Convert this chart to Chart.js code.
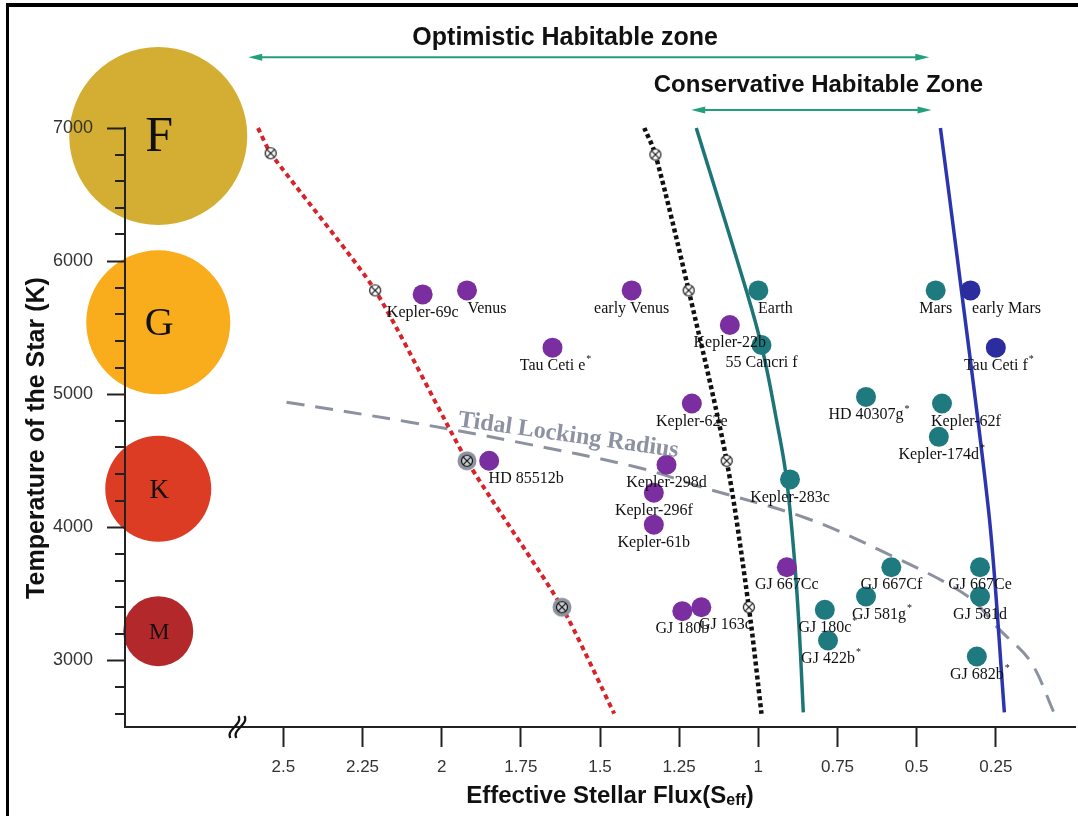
<!DOCTYPE html>
<html>
<head>
<meta charset="utf-8">
<script src="https://cdn.jsdelivr.net/npm/chart.js@4.4.1/dist/chart.umd.min.js"></script>
<style>
  html, body { margin: 0; padding: 0; background: #fff; }
  #wrap { width: 1078px; height: 816px; }
</style>
</head>
<body>
<div id="wrap"><canvas id="hzChart" width="1078" height="816"></canvas></div>
<script>
// Tick values
const fluxTicks = [2.5, 2.25, 2, 1.75, 1.5, 1.25, 1, 0.75, 0.5, 0.25];
const tempTicks = [3000, 4000, 5000, 6000, 7000];
const tempMinor = [2600, 2800, 3200, 3400, 3600, 3800, 4200, 4400, 4600, 4800,
                   5200, 5400, 5600, 5800, 6200, 6400, 6600, 6800];

// Spectral classes of the host star
const starClasses = ['F', 'G', 'K', 'M'];
const starFlux = [2.895, 2.895, 2.895, 2.895];
const starTemp = [6940, 5540, 4290, 3220];

// Planets too hot (purple)
const hotNames = ['Kepler-69c', 'Venus', 'early Venus', 'Tau Ceti e*', 'HD 85512b', 'Kepler-22b',
                  'Kepler-62e', 'Kepler-298d', 'Kepler-296f', 'Kepler-61b', 'GJ 667Cc', 'GJ 180b', 'GJ 163c'];
const hotFlux = [2.06, 1.92, 1.40, 1.65, 1.85, 1.09, 1.21, 1.29, 1.33, 1.33, 0.91, 1.24, 1.18];
const hotTemp = [5750, 5780, 5780, 5350, 4500, 5520, 4930, 4470, 4260, 4020, 3700, 3370, 3400];

// Planets inside the habitable zone (teal)
const hzNames = ['Earth', '55 Cancri f', 'Mars', 'HD 40307g*', 'Kepler-62f', 'Kepler-174d*', 'Kepler-283c',
                 'GJ 667Cf', 'GJ 667Ce', 'GJ 581g*', 'GJ 581d', 'GJ 180c*', 'GJ 422b*', 'GJ 682b*'];
const hzFlux = [1.00, 0.99, 0.44, 0.66, 0.42, 0.43, 0.90, 0.58, 0.30, 0.66, 0.30, 0.79, 0.78, 0.31];
const hzTemp = [5780, 5370, 5780, 4980, 4930, 4680, 4360, 3700, 3700, 3480, 3480, 3380, 3150, 3030];

// Planets too cold (blue)
const coldNames = ['early Mars', 'Tau Ceti f*'];
const coldFlux = [0.33, 0.25];
const coldTemp = [5780, 5350];

// Boundary curves
const recentVenusFlux = [2.58, 2.54, 2.21, 1.92, 1.62, 1.455];
const recentVenusTemp = [7000, 6810, 5780, 4500, 3400, 2600];
const moistFlux = [1.36, 1.325, 1.22, 1.10, 1.03, 0.99];
const moistTemp = [7000, 6800, 5780, 4500, 3400, 2600];
const runawayFlux = [1.196, 1.038, 0.987, 0.943, 0.912, 0.886, 0.871, 0.858];
const runawayTemp = [7000, 5780, 5335, 4810, 4383, 3760, 3235, 2610];
const maxGreenFlux = [0.425, 0.371, 0.270, 0.223];
const maxGreenTemp = [7000, 6010, 4060, 2610];
const tidalFlux = [2.49, 2.10, 1.77, 1.38, 1.19, 0.85, 0.60, 0.34, 0.24, 0.14, 0.065];
const tidalTemp = [4940, 4790, 4645, 4450, 4310, 4070, 3810, 3485, 3235, 2990, 2600];

// Marked points on the dotted curves
const venusMarkFlux = [2.54, 2.21, 1.92, 1.62];
const venusMarkTemp = [6810, 5780, 4500, 3400];
const moistMarkFlux = [1.325, 1.22, 1.10, 1.03];
const moistMarkTemp = [6800, 5780, 4500, 3400];

const toPts = (xs, ys) => xs.map((x, i) => ({ x: x, y: ys[i] }));

// crossed circle marker
function crossMark(halo) {
    const s = halo ? 22 : 14;
    const c = document.createElement('canvas');
    c.width = s; c.height = s;
    const g = c.getContext('2d');
    const m = s / 2;
    if (halo) {
        g.fillStyle = '#8f939d';
        g.beginPath(); g.arc(m, m, 9.5, 0, Math.PI * 2); g.fill();
    }
    g.fillStyle = halo ? '#c9ccd3' : '#fff';
    g.beginPath(); g.arc(m, m, 5.5, 0, Math.PI * 2); g.fill();
    g.strokeStyle = '#111'; g.lineWidth = 1.2; g.stroke();
    const d = 5.5 * Math.SQRT1_2;
    g.beginPath();
    g.moveTo(m - d, m - d); g.lineTo(m + d, m + d);
    g.moveTo(m + d, m - d); g.lineTo(m - d, m + d);
    g.stroke();
    return c;
}
const plainMark = crossMark(false);
const haloMark = crossMark(true);

const SANS = '"Liberation Sans", Arial, sans-serif';
const SERIF = '"Liberation Serif", "Times New Roman", serif';

// horizontal shift of some planet labels
const labelShift = { 'Venus': 20, 'HD 85512b': 37, 'Earth': 17, 'early Mars': 36,
                     'Kepler-62f': 24, 'GJ 581g*': 13, 'GJ 163c': 24 };

function drawArrow(ctx, x1, x2, y) {
    ctx.beginPath(); ctx.moveTo(x1 + 8, y); ctx.lineTo(x2 - 8, y); ctx.stroke();
    ctx.beginPath(); ctx.moveTo(x1, y); ctx.lineTo(x1 + 14, y - 3.5); ctx.lineTo(x1 + 14, y + 3.5); ctx.closePath(); ctx.fill();
    ctx.beginPath(); ctx.moveTo(x2, y); ctx.lineTo(x2 - 14, y - 3.5); ctx.lineTo(x2 - 14, y + 3.5); ctx.closePath(); ctx.fill();
}

const extras = {
    id: 'extras',
    afterDatasetsDraw(chart) {
        const ctx = chart.ctx;
        const xs = chart.scales.x, ys = chart.scales.y;
        ctx.save();

        // minor ticks on y axis
        ctx.strokeStyle = '#222'; ctx.lineWidth = 2;
        tempMinor.forEach(t => {
            const py = Math.round(ys.getPixelForValue(t));
            ctx.beginPath(); ctx.moveTo(xs.left - 10, py); ctx.lineTo(xs.left, py); ctx.stroke();
        });

        // axis break
        const bx = xs.getPixelForValue(2.645), by = ys.bottom;
        ctx.lineWidth = 2.2; ctx.strokeStyle = '#111';
        [-3, 3].forEach(o => {
            ctx.beginPath();
            ctx.moveTo(bx + o - 4, by + 11);
            ctx.bezierCurveTo(bx + o - 9, by + 3, bx + o + 9, by - 3, bx + o + 4, by - 11);
            ctx.stroke();
        });

        // letters of spectral classes
        const starMeta = chart.getDatasetMeta(chart.data.datasets.length - 1);
        const letterSize = [50, 40, 27, 23];
        ctx.fillStyle = '#111'; ctx.textAlign = 'center'; ctx.textBaseline = 'middle';
        starMeta.data.forEach((pt, i) => {
            ctx.font = letterSize[i] + 'px ' + SERIF;
            ctx.fillText(starClasses[i], pt.x + 1, pt.y + 2);
        });

        // planet labels
        chart.data.datasets.forEach((ds, di) => {
            if (!ds.names) return;
            const meta = chart.getDatasetMeta(di);
            meta.data.forEach((pt, i) => {
                const name = ds.names[i];
                const star = name.endsWith('*');
                const txt = star ? name.slice(0, -1) : name;
                const cx = pt.x + (labelShift[name] || 0), cy = pt.y + 18;
                ctx.font = '16px ' + SERIF;
                ctx.textAlign = 'center'; ctx.textBaseline = 'middle';
                ctx.fillStyle = '#111';
                ctx.fillText(txt, cx, cy);
                if (star) {
                    const w = ctx.measureText(txt).width;
                    ctx.font = '10px ' + SERIF;
                    ctx.textAlign = 'left';
                    ctx.fillText('*', cx + w / 2 + 1, cy - 6);
                }
            });
        });

        // tidal locking label
        ctx.save();
        ctx.translate(xs.getPixelForValue(1.60), ys.getPixelForValue(4690));
        ctx.rotate(8 * Math.PI / 180);
        ctx.font = 'bold 24px ' + SERIF;
        ctx.fillStyle = '#8d92a3'; ctx.textAlign = 'center'; ctx.textBaseline = 'middle';
        ctx.fillText('Tidal Locking Radius', 0, 0);
        ctx.restore();

        // habitable zone arrows
        ctx.strokeStyle = '#22a07c'; ctx.fillStyle = '#22a07c'; ctx.lineWidth = 2;
        drawArrow(ctx, xs.getPixelForValue(2.611), xs.getPixelForValue(0.46), ys.getPixelForValue(7532));
        drawArrow(ctx, xs.getPixelForValue(1.212), xs.getPixelForValue(0.453), ys.getPixelForValue(7135));
        ctx.fillStyle = '#111'; ctx.textAlign = 'center'; ctx.textBaseline = 'middle';
        ctx.font = 'bold 25px ' + SANS;
        ctx.fillText('Optimistic Habitable zone', xs.getPixelForValue(1.61), ys.getPixelForValue(7675));
        ctx.font = 'bold 24px ' + SANS;
        ctx.fillText('Conservative Habitable Zone', xs.getPixelForValue(0.81), ys.getPixelForValue(7322));

        // axis titles
        ctx.font = 'bold 24px ' + SANS;
        const t1 = 'Effective Stellar Flux(S', t2 = 'eff', t3 = ')';
        const w1 = ctx.measureText(t1).width, w3 = ctx.measureText(t3).width;
        ctx.font = 'bold 16px ' + SANS;
        const w2 = ctx.measureText(t2).width;
        let tx = 610 - (w1 + w2 + w3) / 2;
        ctx.textAlign = 'left'; ctx.textBaseline = 'alphabetic';
        ctx.font = 'bold 24px ' + SANS; ctx.fillText(t1, tx, 803);
        ctx.font = 'bold 16px ' + SANS; ctx.fillText(t2, tx + w1, 805);
        ctx.font = 'bold 24px ' + SANS; ctx.fillText(t3, tx + w1 + w2, 803);

        ctx.save();
        ctx.translate(37, 438);
        ctx.rotate(-Math.PI / 2);
        ctx.font = 'bold 25px ' + SANS;
        ctx.textAlign = 'center'; ctx.textBaseline = 'middle';
        ctx.fillText('Temperature of the Star (K)', 0, 0);
        ctx.restore();

        // frame
        ctx.fillStyle = '#000';
        ctx.fillRect(6, 3, 1072, 4);
        ctx.fillRect(6, 3, 3, 813);
        ctx.restore();
    }
};

const lineStyle = (color, width, dash, tension) => ({
    showLine: true, pointRadius: 0, borderColor: color, borderWidth: width,
    borderDash: dash, tension: tension, fill: false, clip: false
});

new Chart(document.getElementById('hzChart').getContext('2d'), {
    type: 'scatter',
    data: {
        datasets: [
            { names: hotNames, data: toPts(hotFlux, hotTemp), backgroundColor: '#7b2e9f', pointRadius: 10, borderWidth: 0 },
            { names: hzNames, data: toPts(hzFlux, hzTemp), backgroundColor: '#1f7a80', pointRadius: 10, borderWidth: 0 },
            { names: coldNames, data: toPts(coldFlux, coldTemp), backgroundColor: '#2b2c9e', pointRadius: 10, borderWidth: 0 },
            { data: toPts(venusMarkFlux, venusMarkTemp), pointStyle: [plainMark, plainMark, haloMark, haloMark], clip: false },
            { data: toPts(moistMarkFlux, moistMarkTemp), pointStyle: plainMark, clip: false },
            Object.assign({ data: toPts(recentVenusFlux, recentVenusTemp) }, lineStyle('#d8232a', 4, [5, 4], 0.2)),
            Object.assign({ data: toPts(moistFlux, moistTemp) }, lineStyle('#111', 4.5, [4, 3], 0.3)),
            Object.assign({ data: toPts(runawayFlux, runawayTemp) }, lineStyle('#1d7577', 3.5, [], 0.4)),
            Object.assign({ data: toPts(maxGreenFlux, maxGreenTemp) }, lineStyle('#2b36ae', 3.5, [], 0.3)),
            Object.assign({ data: toPts(tidalFlux, tidalTemp) }, lineStyle('#8c91a0', 3, [18, 11], 0.35)),
            { data: toPts(starFlux, starTemp), pointRadius: [89, 72, 53, 35], borderWidth: 0,
              backgroundColor: ['#d4ae32', '#f9ac1c', '#dc3b24', '#b3282b'], clip: false }
        ]
    },
    options: {
        responsive: false,
        animation: false,
        events: [],
        layout: { autoPadding: false, padding: { top: 128, left: 0, right: 3, bottom: 0 } },
        plugins: { legend: { display: false }, tooltip: { enabled: false } },
        scales: {
            x: {
                type: 'linear', min: 0, max: 3, reverse: true,
                afterBuildTicks: s => { s.ticks = fluxTicks.map(v => ({ value: v })); },
                afterFit: s => { s.height = 89; },
                ticks: { color: '#333', font: { family: SANS, size: 17 }, padding: 10, callback: v => String(v) },
                grid: { drawOnChartArea: false, tickLength: 20, tickWidth: 2, tickColor: '#222' },
                border: { color: '#222', width: 2 }
            },
            y: {
                type: 'linear', min: 2500, max: 7000,
                afterBuildTicks: s => { s.ticks = tempTicks.map(v => ({ value: v })); },
                afterFit: s => { s.width = 125; },
                ticks: { color: '#333', font: { family: SANS, size: 18 }, padding: 14, z: 1, callback: v => String(v) },
                grid: { drawOnChartArea: false, tickLength: 18, tickWidth: 2, tickColor: '#222', z: 1 },
                border: { color: '#222', width: 2, z: 1 }
            }
        }
    },
    plugins: [extras]
});
</script>
</body>
</html>
